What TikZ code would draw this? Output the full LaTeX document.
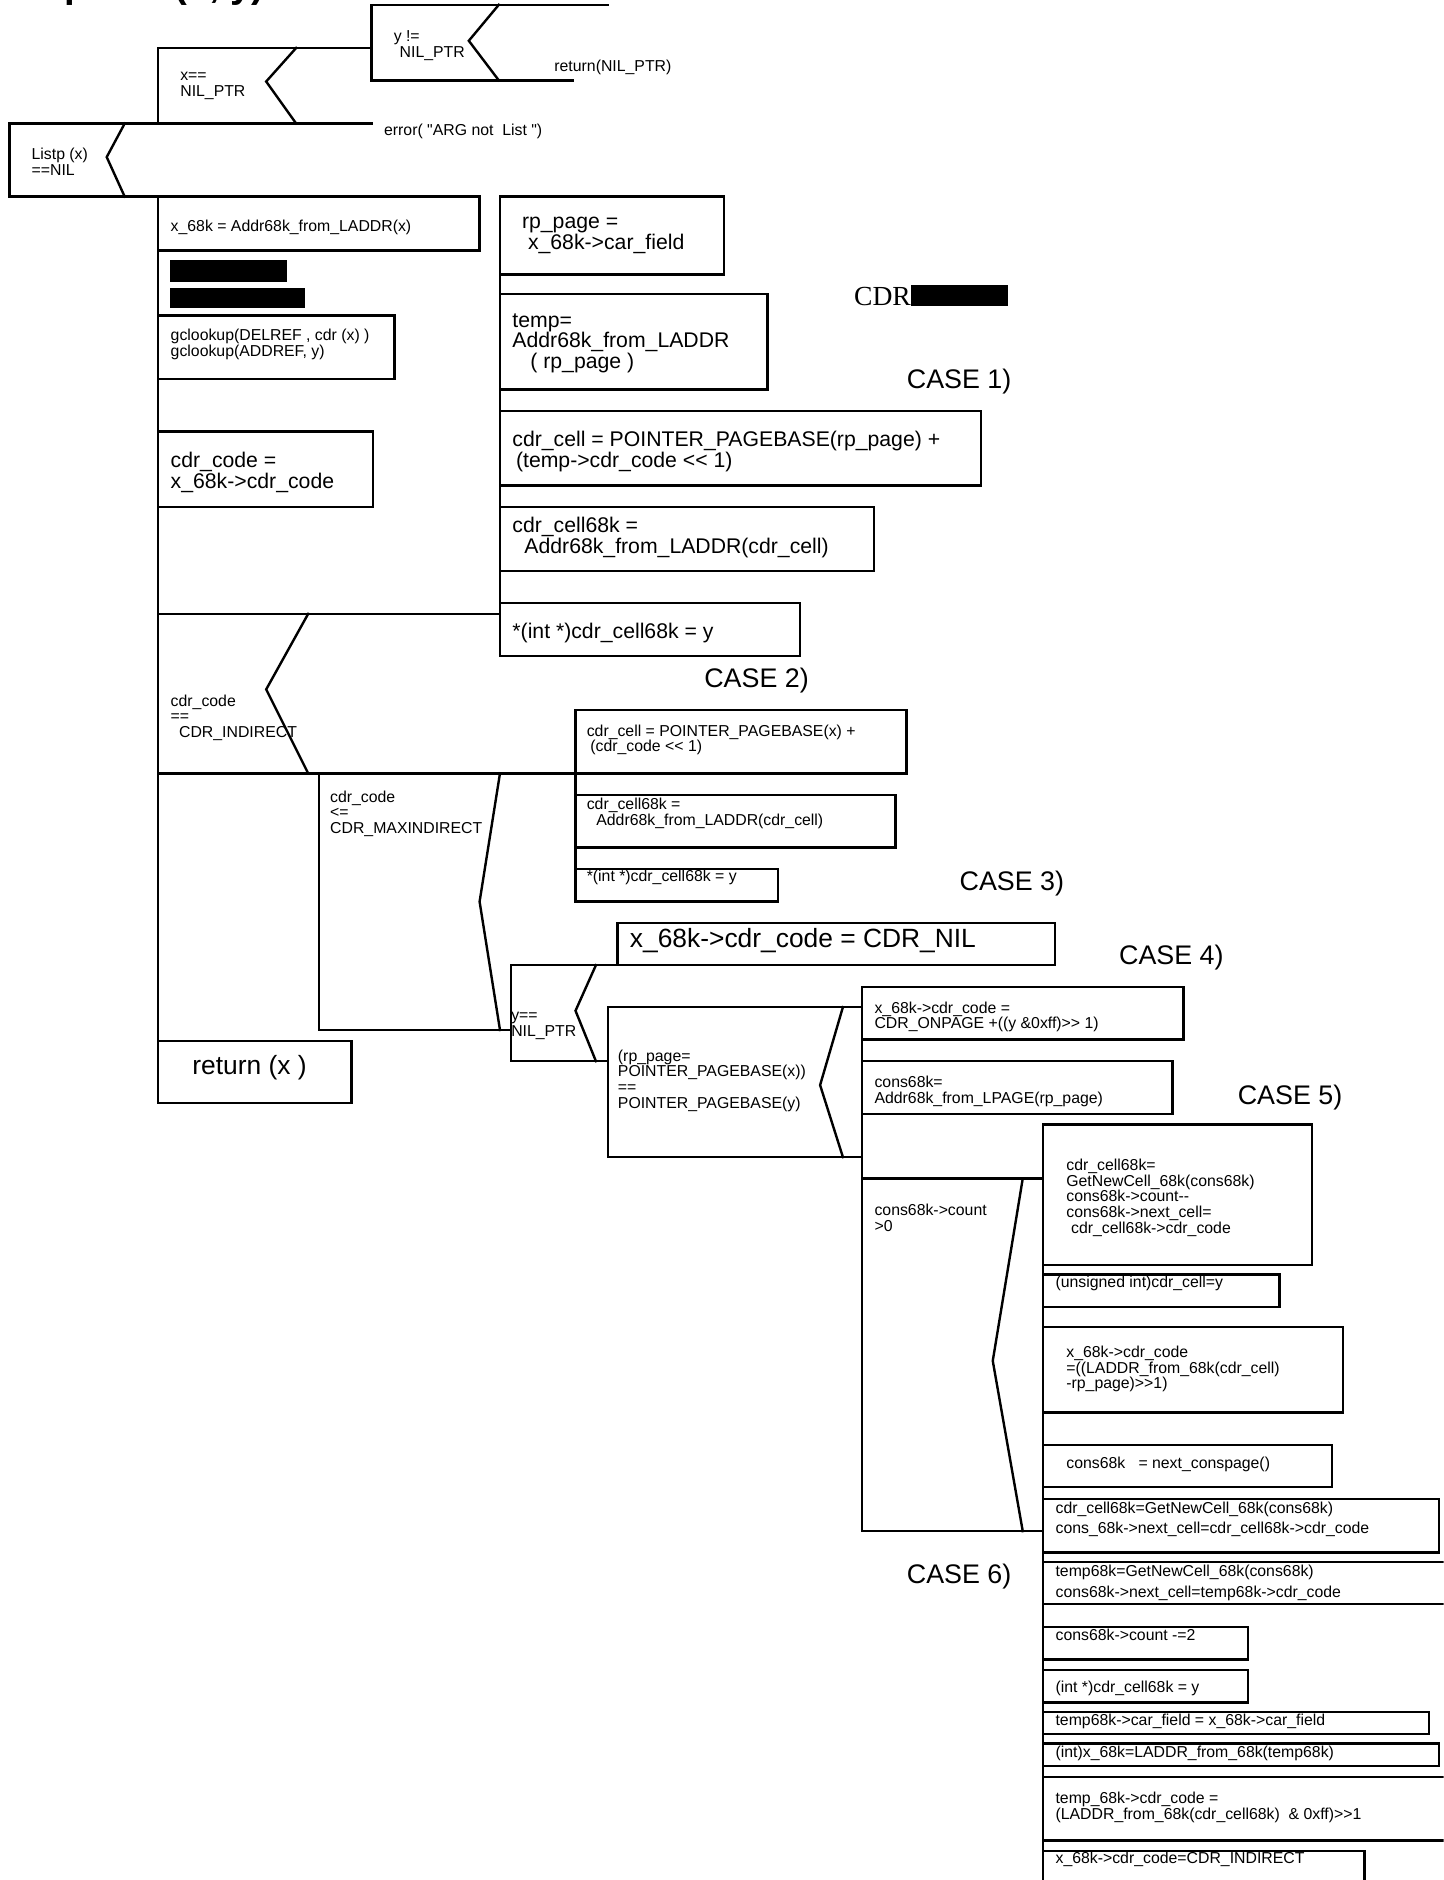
\documentclass[tikz,border=0pt]{standalone}
\usepackage{fontspec}
\setmainfont{Liberation Sans}[Ligatures=TeXOff]
\newfontfamily\cdrserif{Liberation Serif}
\begin{document}
\begin{tikzpicture}[x=0.5pt,y=-0.5pt,
  ln/.style={line width=1pt, line join=miter, line cap=rect},
  ts/.style={inner sep=0pt, anchor=north west, align=left, font=\fontsize{6.6pt}{6.6pt}\selectfont},
  tm/.style={inner sep=0pt, anchor=north west, align=left, font=\fontsize{8.85pt}{8.7pt}\selectfont},
  tl/.style={inner sep=0pt, anchor=north west, align=left, font=\fontsize{11pt}{12pt}\selectfont},
  caselbl/.style={inner sep=0pt, anchor=west, font=\fontsize{11.2pt}{12pt}\selectfont},
  redact/.style={fill=black, draw=none}]
\useasboundingbox (0,0) rectangle (1204,1568);
\clip (0,0) rectangle (1204,1568);

% title (clipped at top, only descenders visible)
\node[inner sep=0pt, anchor=base east, font=\fontsize{16pt}{16pt}\selectfont\bfseries] (title) at (221,-2) {rplacd (x, y)};

% --- top decisions
\draw[ln] (507,4) -- (310,4) -- (310,67) -- (478,67);
\draw[ln] (416,4) -- (391,34) -- (416,67);
\node[ts] (ty) at (328,25) {y !=\\\hspace*{2.5pt}NIL\_PTR};
\node[ts] (tret) at (462,50) {return(NIL\_PTR)};

\draw[ln] (310,40) -- (132,40) -- (132,103);
\draw[ln] (247,40) -- (222,68) -- (247,103);
\node[ts] (tx) at (150,60) {x==\\NIL\_PTR};
\node[ts] (terr) at (320,103) {error( "ARG not\ \ List ")};

\draw[ln] (310,103) -- (8,103) -- (8,164) -- (400,164);
\draw[ln] (104,103) -- (89,131) -- (104,164);
\node[ts] (tlist) at (26,123) {Listp (x)\\==NIL};

% --- main column
\draw[ln] (132,164) -- (132,920);
\draw[ln] (132,164) rectangle (400,209);
\node[ts] (tx68) at (142,183) {x\_68k = Addr68k\_from\_LADDR(x)};
\fill[redact] (142,217) rectangle (239,235);
\fill[redact] (142,240) rectangle (254,257);
\draw[ln] (132,263) rectangle (329,316);
\node[ts] (tgc) at (142,274) {gclookup(DELREF , cdr (x) )\\gclookup(ADDREF, y)};
\draw[ln] (132,360) rectangle (311,423);
\node[tm] (tcc) at (142,377) {cdr\_code =\\x\_68k->cdr\_code};

% --- case 1 column
\draw[ln] (417,164) -- (417,547);
\draw[ln] (417,164) rectangle (604,229);
\node[tm] (trp) at (435,181) {rp\_page =\\\hspace*{2.5pt}x\_68k->car\_field};
\draw[ln] (417,245) rectangle (640,325);
\node[tm] (ttemp) at (427,261) {temp=\\Addr68k\_from\_LADDR\\\hspace*{7.5pt}( rp\_page )};
\draw[ln] (417,343) rectangle (818,405);
\node[tm] (tcell1) at (427,359) {cdr\_cell = POINTER\_PAGEBASE(rp\_page) +\\\hspace*{1.5pt}(temp->cdr\_code << 1)};
\draw[ln] (417,423) rectangle (729,476);
\node[tm] (tc68a) at (427,431) {cdr\_cell68k =\\\hspace*{5pt}Addr68k\_from\_LADDR(cdr\_cell)};
\draw[ln] (417,503) rectangle (667,547);
\node[tm] (tset1) at (427,519) {*(int *)cdr\_cell68k = y};

% CDR + redaction
\node[inner sep=0pt, anchor=west, font=\cdrserif\fontsize{11.5pt}{12pt}\selectfont] (tcdr) at (712,247) {CDR};
\fill[redact] (760,238) rectangle (841,255);

% --- cdr_code == CDR_INDIRECT
\draw[ln] (132,512) -- (417,512);
\draw[ln] (257,512) -- (222,575) -- (257,645);
\draw[ln] (132,645) -- (480,645);
\node[ts] (tind) at (142,579) {cdr\_code\\==\\\hspace*{3.5pt}CDR\_INDIRECT};

% --- case 2 column
\draw[ln] (480,592) -- (480,752);
\draw[ln] (480,592) rectangle (756,645);
\node[ts] (tcell2) at (489,604) {cdr\_cell = POINTER\_PAGEBASE(x) +\\\hspace*{1.5pt}(cdr\_code << 1)};
\draw[ln] (480,663) rectangle (747,707);
\node[ts] (tc68b) at (489,665) {cdr\_cell68k =\\\hspace*{4pt}Addr68k\_from\_LADDR(cdr\_cell)};
\draw[ln] (480,725) rectangle (649,752);
\node[ts] (tset2) at (489,725) {*(int *)cdr\_cell68k = y};

% --- cdr_code <= CDR_MAXINDIRECT
\draw[ln] (266,645) -- (266,859) -- (426,859);
\draw[ln] (417,645) -- (400,752) -- (417,859);
\node[ts] (tmax) at (275,659) {cdr\_code\\<=\\CDR\_MAXINDIRECT};

% return box
\draw[ln] (132,868) rectangle (293,920);
\node[tl] (treturn) at (160,880) {return (x )};

% --- case 3
\draw[ln] (515,770) rectangle (880,805);
\node[tl] (tnil) at (525,774) {x\_68k->cdr\_code = CDR\_NIL};

% y == NIL_PTR
\draw[ln] (515,805) -- (426,805) -- (426,885) -- (507,885);
\draw[ln] (497,805) -- (480,843) -- (497,885);
\node[ts] (tynil) at (426,844) {y==\\NIL\_PTR};

% rp_page decision
\draw[ln] (719,840) -- (507,840) -- (507,965) -- (719,965);
\draw[ln] (703,840) -- (684,905) -- (703,965);
\node[ts] (trpd) at (515,875) {(rp\_page=\\POINTER\_PAGEBASE(x))\\==\\POINTER\_PAGEBASE(y)};

% --- case 4 column
\draw[ln] (719,823) -- (719,1277);
\draw[ln] (719,823) rectangle (987,867);
\node[ts] (tonp) at (729,835) {x\_68k->cdr\_code =\\CDR\_ONPAGE +((y \&0xff)>> 1)};
\draw[ln] (719,885) rectangle (978,929);
\node[ts] (tcons) at (729,897) {cons68k=\\Addr68k\_from\_LPAGE(rp\_page)};

% count decision
\draw[ln] (719,983) -- (870,983);
\draw[ln] (719,1277) -- (870,1277);
\draw[ln] (853,983) -- (828,1135) -- (853,1277);
\node[ts] (tcnt) at (729,1004) {cons68k->count\\>0};

% --- case 5/6 column
\draw[ln] (870,938) -- (870,1575);
\draw[ln] (870,938) rectangle (1094,1055);
\node[ts] (tget) at (889,966) {cdr\_cell68k=\\GetNewCell\_68k(cons68k)\\cons68k->count--\\cons68k->next\_cell=\\\hspace*{2pt}cdr\_cell68k->cdr\_code};
\draw[ln] (870,1063) rectangle (1067,1090);
\node[ts] (tuns) at (880,1064) {(unsigned int)cdr\_cell=y};
\draw[ln] (870,1107) rectangle (1120,1178);
\node[ts] (tladdr) at (889,1122) {x\_68k->cdr\_code\\=((LADDR\_from\_68k(cdr\_cell)\\-rp\_page)>>1)};

\draw[ln] (870,1205) rectangle (1111,1240);
\node[ts] (tnext) at (889,1215) {cons68k\ \ \ = next\_conspage()};
\draw[ln] (870,1250) rectangle (1200,1295);
\node[ts] (tg1) at (880,1252) {cdr\_cell68k=GetNewCell\_68k(cons68k)\\[2pt]cons\_68k->next\_cell=cdr\_cell68k->cdr\_code};
\draw[ln] (870,1303) rectangle (1215,1338);
\node[ts] (tg2) at (880,1305) {temp68k=GetNewCell\_68k(cons68k)\\[2pt]cons68k->next\_cell=temp68k->cdr\_code};
\draw[ln] (870,1357) rectangle (1041,1384);
\node[ts] (tcm) at (880,1358) {cons68k->count -=2};
\draw[ln] (870,1393) rectangle (1041,1420);
\node[ts] (tiy) at (880,1402) {(int *)cdr\_cell68k = y};
\draw[ln] (870,1428) rectangle (1192,1446);
\node[ts] (tcar) at (880,1429) {temp68k->car\_field = x\_68k->car\_field};
\draw[ln] (870,1454) rectangle (1200,1473);
\node[ts] (tix) at (880,1456) {(int)x\_68k=LADDR\_from\_68k(temp68k)};
\draw[ln] (870,1482) rectangle (1215,1535);
\node[ts] (ttc) at (880,1494) {temp\_68k->cdr\_code =\\(LADDR\_from\_68k(cdr\_cell68k)\ \ \& 0xff)>>1};
\draw[ln] (870,1544) rectangle (1138,1585);
\node[ts] (tci) at (880,1544) {x\_68k->cdr\_code=CDR\_INDIRECT};

% case labels
\node[caselbl] (c1) at (756,318) {CASE 1)};
\node[caselbl] (c2) at (587,568) {CASE 2)};
\node[caselbl] (c3) at (800,737) {CASE 3)};
\node[caselbl] (c4) at (933,799) {CASE 4)};
\node[caselbl] (c5) at (1032,915) {CASE 5)};
\node[caselbl] (c6) at (756,1315) {CASE 6)};
\end{tikzpicture}
\end{document}
